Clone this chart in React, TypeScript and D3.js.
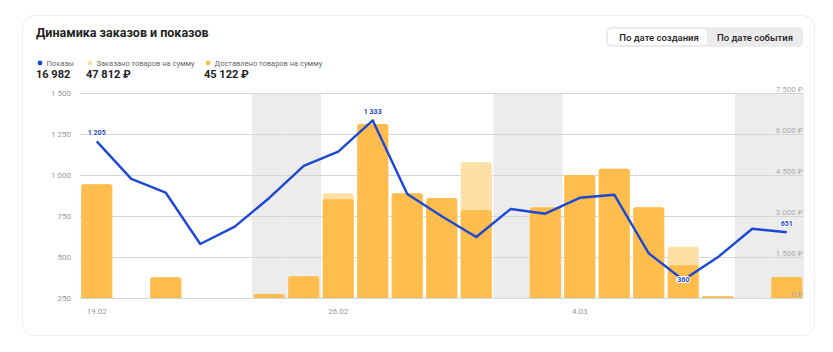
import * as d3 from "d3"

// days shown on the x axis
const days = [
  "19.02", "20.02", "21.02", "22.02", "23.02", "24.02", "25.02",
  "26.02", "27.02", "28.02", "29.02", "1.03", "2.03", "3.03",
  "4.03", "5.03", "6.03", "7.03", "8.03", "9.03", "10.03",
]
const weekendDays = ["24.02", "25.02", "2.03", "3.03", "9.03", "10.03"]
const tickDays = ["19.02", "26.02", "4.03"]

// Показы (left axis)
const views = [1205, 976, 892, 579, 685, 860, 1055, 1142, 1333, 884, 748, 622, 793, 764, 861, 880, 522, 360, 498, 672, 651]
// Заказано товаров на сумму, ₽ (right axis)
const ordered = [4160, 0, 757, 0, 0, 150, 800, 3830, 6366, 3830, 3658, 4965, 0, 3318, 4500, 4730, 3318, 1877, 60, 0, 768]
// Доставлено товаров на сумму, ₽ (right axis)
const delivered = [4160, 0, 757, 0, 0, 150, 800, 3611, 6366, 3830, 3658, 3220, 0, 3318, 4500, 4730, 3318, 1196, 60, 0, 768]

const leftTicks = [250, 500, 750, 1000, 1250, 1500]
const rightTicks = [0, 1500, 3000, 4500, 6000, 7500]
const labelled = ["19.02", "27.02", "7.03", "10.03"]

const legend = [
  { name: "Показы", total: "16 982", color: "#1c48d4" },
  { name: "Заказано товаров на сумму", total: "47 812 ₽", color: "#fde0a6" },
  { name: "Доставлено товаров на сумму", total: "45 122 ₽", color: "#ffbd4d" },
]

const W = 833
const H = 352
const font = "Roboto, 'Noto Sans', sans-serif"

const ru = d3.formatLocale({ decimal: ",", thousands: "\u00a0", grouping: [3], currency: ["", "\u00a0₽"] })
const fmt = ru.format(",d")

export default function App() {
  const top = 93
  const bottom = 298
  const xBg = d3.scaleBand<string>().domain(days).range([79.5, 804]).padding(0)
  const xBar = d3.scaleBand<string>().domain(days).range([79.5, 804]).paddingInner(0.1).paddingOuter(0.05)
  const yL = d3.scaleLinear().domain([250, 1500]).range([bottom, top])
  const yR = d3.scaleLinear().domain([0, 7500]).range([bottom, top])

  const cx = (d: string) => (xBg(d) ?? 0) + xBg.bandwidth() / 2

  const line = d3.line<number>()
    .x((_, i) => cx(days[i]))
    .y(v => yL(v))

  const barPath = (d: string, v: number) => {
    if (!v) return ""
    const x0 = xBar(d) ?? 0
    const w = xBar.bandwidth()
    const y0 = yR(v)
    const r = Math.min(2.5, (bottom - y0) / 2)
    return `M${x0},${bottom}V${y0 + r}Q${x0},${y0} ${x0 + r},${y0}H${x0 + w - r}Q${x0 + w},${y0} ${x0 + w},${y0 + r}V${bottom}Z`
  }

  const legendX = [36, 86, 204]

  return (
    <svg width={W} height={H} style={{ position: "absolute", left: 0, top: 0, background: "#fff" }} fontFamily={font}>
      <rect x={22.5} y={15.5} width={792} height={320} rx={12} fill="#fff" stroke="#ededed" />
      <text x={36} y={37} fontSize={12.5} fontWeight={700} fill="#1f1f1f">Динамика заказов и показов</text>

      {/* toggle */}
      <rect x={606} y={27} width={197} height={20} rx={5} fill="#ebebeb" />
      <rect x={608} y={29} width={99} height={16} rx={4} fill="#fff" />
      <text x={659} y={40.5} fontSize={9.5} fontWeight={500} textAnchor="middle" fill="#222">По дате создания</text>
      <text x={755} y={40.5} fontSize={9.5} fontWeight={500} textAnchor="middle" fill="#222">По дате события</text>

      {/* legend */}
      {legend.map((l, i) => (
        <g key={l.name}>
          <circle cx={legendX[i] + 4} cy={63} r={2.4} fill={l.color} />
          <text x={legendX[i] + 10.5} y={66} fontSize={7.5} fill="#666">{l.name}</text>
          <text x={legendX[i]} y={78} fontSize={11} fontWeight={700} fill="#222">{l.total}</text>
        </g>
      ))}

      {/* weekend bands */}
      {days.filter(d => weekendDays.includes(d)).map(d => (
        <rect key={d} x={xBg(d)} y={top} width={xBg.bandwidth()} height={bottom - top} fill="#ececec" />
      ))}

      {/* grid */}
      {leftTicks.map(t => (
        <line key={t} x1={80} x2={803} y1={Math.round(yL(t)) + 0.5} y2={Math.round(yL(t)) + 0.5} stroke="#d6d6d6" />
      ))}

      {/* bars */}
      {days.map((d, i) => (
        <g key={d}>
          <path d={barPath(d, ordered[i])} fill="#fde0a6" />
          <path d={barPath(d, delivered[i])} fill="#ffbd4d" />
        </g>
      ))}

      {/* left axis */}
      {leftTicks.map(t => (
        <text key={t} x={71} y={yL(t) + 3} fontSize={8} textAnchor="end" fill="#999">{fmt(t)}</text>
      ))}
      {/* right axis */}
      {rightTicks.map(t => (
        <text key={t} x={803} y={yR(t) - 1} fontSize={8} textAnchor="end" fill="#aaa">{fmt(t) + "\u00a0₽"}</text>
      ))}
      {/* x axis */}
      {tickDays.map(d => (
        <text key={d} x={cx(d)} y={314} fontSize={8} textAnchor="middle" fill="#999">{d}</text>
      ))}

      {/* views line */}
      <path d={line(views) ?? ""} fill="none" stroke="#1c48d4" strokeWidth={2.4} strokeLinejoin="round" />
      {labelled.map(d => {
        const i = days.indexOf(d)
        const v = views[i]
        const dy = v === 360 ? 2 : -6
        return (
          <text key={d} x={cx(d)} y={yL(v) + dy} fontSize={7} fontWeight={700} textAnchor="middle"
            fill="#1c48d4" stroke="#fff" strokeWidth={2} paintOrder="stroke">{fmt(v)}</text>
        )
      })}
    </svg>
  )
}
